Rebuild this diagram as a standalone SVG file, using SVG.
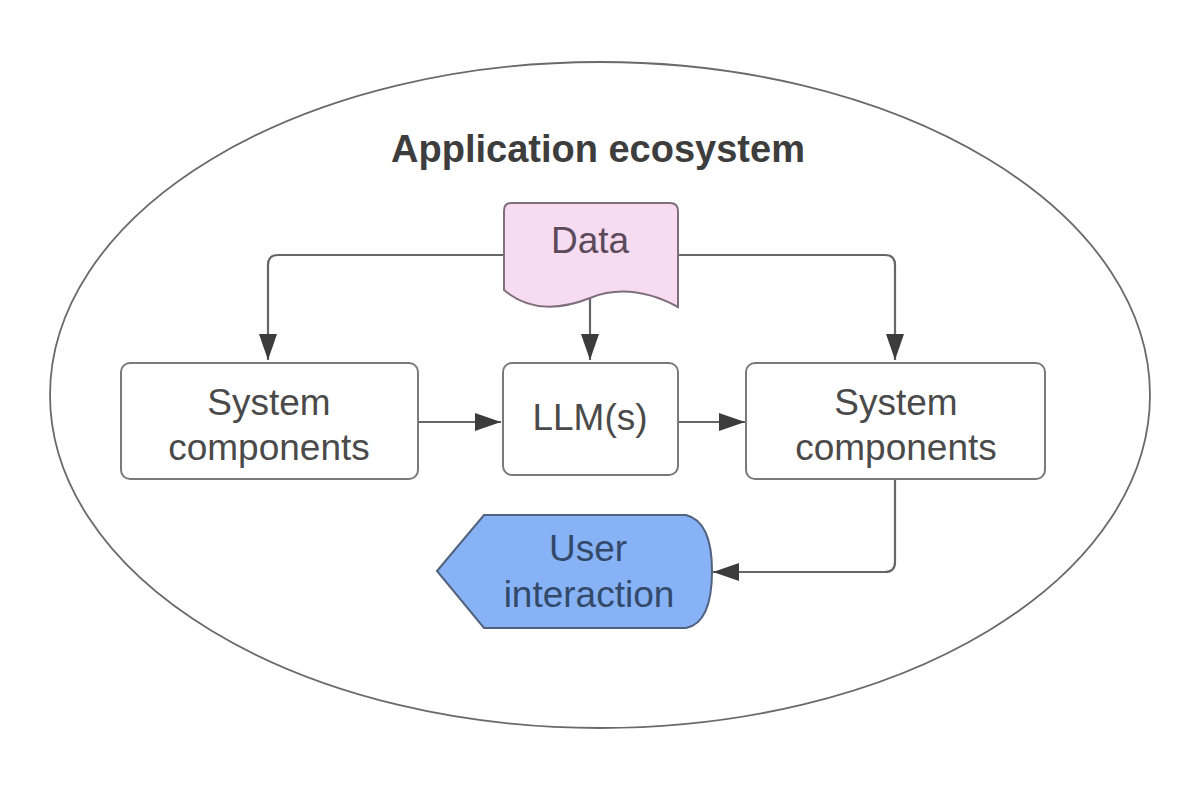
<svg xmlns="http://www.w3.org/2000/svg" width="1200" height="803" viewBox="0 0 1200 803">
<style>
.lbl{font-family:"Liberation Sans",Arial,sans-serif;font-size:37px;text-anchor:middle;fill:#4a4a4a}
.box{fill:#ffffff;stroke:#7a7a7a;stroke-width:2}
.conn{fill:none;stroke:#666;stroke-width:2.2}
</style>
<defs>
<marker id="ah" markerWidth="26" markerHeight="18" refX="26" refY="9" orient="auto" markerUnits="userSpaceOnUse">
<path d="M0,0 L26,9 L0,18 Z" fill="#3c3c3c"/>
</marker>
</defs>
<rect width="1200" height="803" fill="#ffffff"/>
<g id="ecosystem">
<ellipse cx="600" cy="395" rx="550" ry="333" fill="none" stroke="#6a6a6a" stroke-width="1.8"/>
<text x="598" y="162" style="font-family:'Liberation Sans',Arial,sans-serif;font-size:38px;font-weight:bold;fill:#3d3d3d;text-anchor:middle">Application ecosystem</text>
</g>
<g id="connectors">
<path class="conn" d="M503,255 L278,255 Q268,255 268,265 L268,360" marker-end="url(#ah)"/>
<path class="conn" d="M678,255 L885,255 Q895,255 895,265 L895,360" marker-end="url(#ah)"/>
<path class="conn" d="M590,298 L590,360" marker-end="url(#ah)"/>
<path class="conn" d="M418,422 L501,422" marker-end="url(#ah)"/>
<path class="conn" d="M678,422 L745,422" marker-end="url(#ah)"/>
<path class="conn" d="M895,480 L895,562 Q895,572 885,572 L713,572" marker-end="url(#ah)"/>
</g>
<g id="data">
<path d="M511,203 L670,203 Q678,203 678,211 L678,307 C650,292 620,286 590,298 C560,310 530,312 504,290 L504,211 Q504,203 511,203 Z" fill="#f7dcf1" stroke="#7f6f7d" stroke-width="2"/>
<text class="lbl" x="590" y="253" style="fill:#5a4a5c">Data</text>
</g>
<g id="sys-left">
<rect class="box" x="121" y="363" width="297" height="116" rx="9"/>
<text class="lbl" x="269" y="415">System</text>
<text class="lbl" x="269" y="460">components</text>
</g>
<g id="llm">
<rect class="box" x="503" y="363" width="175" height="112" rx="9"/>
<text class="lbl" x="590" y="430">LLM(s)</text>
</g>
<g id="sys-right">
<rect class="box" x="746" y="363" width="299" height="116" rx="9"/>
<text class="lbl" x="896" y="415">System</text>
<text class="lbl" x="896" y="460">components</text>
</g>
<g id="user">
<path d="M437,571 L484,515 L686,515 C706,520 712,545 712,571 C712,600 706,624 686,628 L484,628 Z" fill="#87b3f6" stroke="#52627e" stroke-width="2"/>
<text class="lbl" x="588" y="561" style="fill:#33496a">User</text>
<text class="lbl" x="589" y="607" style="fill:#33496a">interaction</text>
</g>
</svg>
